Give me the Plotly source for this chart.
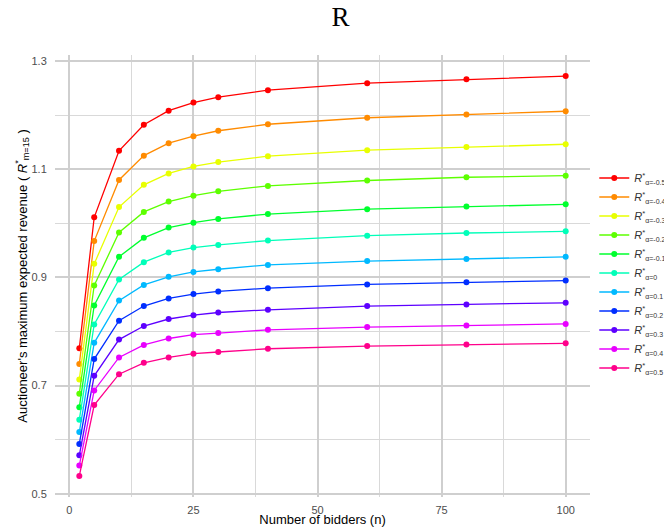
import plotly.graph_objects as go

n_bidders = [2, 5, 10, 15, 20, 25, 30, 40, 60, 80, 100]

alphas = ["-0.5", "-0.4", "-0.3", "-0.2", "-0.1", "0", "0.1", "0.2", "0.3", "0.4", "0.5"]

r_a_m05 = [0.769, 1.011, 1.134, 1.182, 1.208, 1.223, 1.233, 1.246, 1.259, 1.266, 1.272]
r_a_m04 = [0.740, 0.967, 1.080, 1.125, 1.148, 1.161, 1.171, 1.183, 1.195, 1.201, 1.207]
r_a_m03 = [0.711, 0.925, 1.030, 1.071, 1.092, 1.105, 1.113, 1.124, 1.135, 1.141, 1.146]
r_a_m02 = [0.685, 0.885, 0.983, 1.021, 1.040, 1.051, 1.059, 1.069, 1.079, 1.085, 1.088]
r_a_m01 = [0.660, 0.848, 0.938, 0.973, 0.992, 1.001, 1.008, 1.017, 1.026, 1.031, 1.035]
r_a_0 = [0.637, 0.813, 0.896, 0.928, 0.946, 0.955, 0.960, 0.968, 0.977, 0.982, 0.985]
r_a_01 = [0.614, 0.779, 0.857, 0.886, 0.901, 0.910, 0.915, 0.923, 0.930, 0.934, 0.938]
r_a_02 = [0.592, 0.749, 0.820, 0.847, 0.861, 0.869, 0.874, 0.880, 0.887, 0.891, 0.894]
r_a_03 = [0.571, 0.718, 0.785, 0.810, 0.823, 0.830, 0.835, 0.840, 0.847, 0.850, 0.853]
r_a_04 = [0.552, 0.691, 0.752, 0.775, 0.787, 0.794, 0.797, 0.803, 0.808, 0.811, 0.814]
r_a_05 = [0.533, 0.664, 0.721, 0.742, 0.752, 0.759, 0.762, 0.768, 0.773, 0.776, 0.778]

series = [r_a_m05, r_a_m04, r_a_m03, r_a_m02, r_a_m01, r_a_0,
          r_a_01, r_a_02, r_a_03, r_a_04, r_a_05]

colors = ["#FF0000", "#FF8B00", "#E8FF00", "#5DFF00", "#00FF2E", "#00FFB9",
          "#00B9FF", "#002EFF", "#5D00FF", "#E800FF", "#FF008B"]

fig = go.Figure()
for a, vals, c in zip(alphas, series, colors):
    fig.add_trace(go.Scatter(
        x=n_bidders, y=vals, mode="lines+markers",
        name="<i>R</i><sup>*</sup><sub><span style='font-size:7px'>α=" + a + "</span></sub>",
        line=dict(color=c, width=1.3),
        marker=dict(color=c, size=6),
    ))

grid_major = "#cfcfcf"
grid_minor = "#d9d9d9"

fig.update_layout(
    width=664, height=527,
    paper_bgcolor="white", plot_bgcolor="white",
    margin=dict(l=55, r=74, t=55, b=30, autoexpand=False),
    font=dict(family="Liberation Sans, Arial, sans-serif", size=11, color="#4d4d4d"),
    title=dict(text="R", x=0.513, xref="container", xanchor="center",
               y=0.969, yref="container", yanchor="middle",
               font=dict(family="Liberation Serif, Times New Roman, serif", size=27, color="black")),
    legend=dict(x=0.895, xref="container", xanchor="left",
                y=0.482, yref="container", yanchor="middle",
                font=dict(size=11, color="#333333"), tracegroupgap=0,
                itemwidth=30, bgcolor="rgba(0,0,0,0)"),
    showlegend=True,
)

fig.update_xaxes(
    range=[-2.9, 104.9], tickmode="linear", tick0=0, dtick=25,
    showgrid=True, gridcolor=grid_major, gridwidth=1.7,
    minor=dict(showgrid=True, dtick=12.5, tick0=0, gridcolor=grid_minor, gridwidth=1.1),
    zeroline=False, showline=False,
    ticks="outside", ticklen=3, tickcolor="rgba(0,0,0,0)",
    automargin=False,
    title=dict(text="Number of bidders (n)", font=dict(size=13, color="black")),
)
fig.update_yaxes(
    range=[0.494, 1.311], tickmode="linear", tick0=0.5, dtick=0.2,
    tickformat=".1f",
    showgrid=True, gridcolor=grid_major, gridwidth=1.7,
    minor=dict(showgrid=True, dtick=0.1, tick0=0.5, gridcolor=grid_minor, gridwidth=1.1),
    zeroline=False, showline=False,
    ticks="outside", ticklen=5, tickcolor="rgba(0,0,0,0)",
    automargin=True,
    title=dict(text="Auctioneer's maximum expected revenue ( <i>R</i><sup>*</sup><sub>m=15</sub> )",
               font=dict(size=13, color="black"), standoff=0),
)

fig.write_html("out.html", config={"displayModeBar": False},
               post_script="document.body.style.margin='0';document.body.style.overflow='hidden';")
